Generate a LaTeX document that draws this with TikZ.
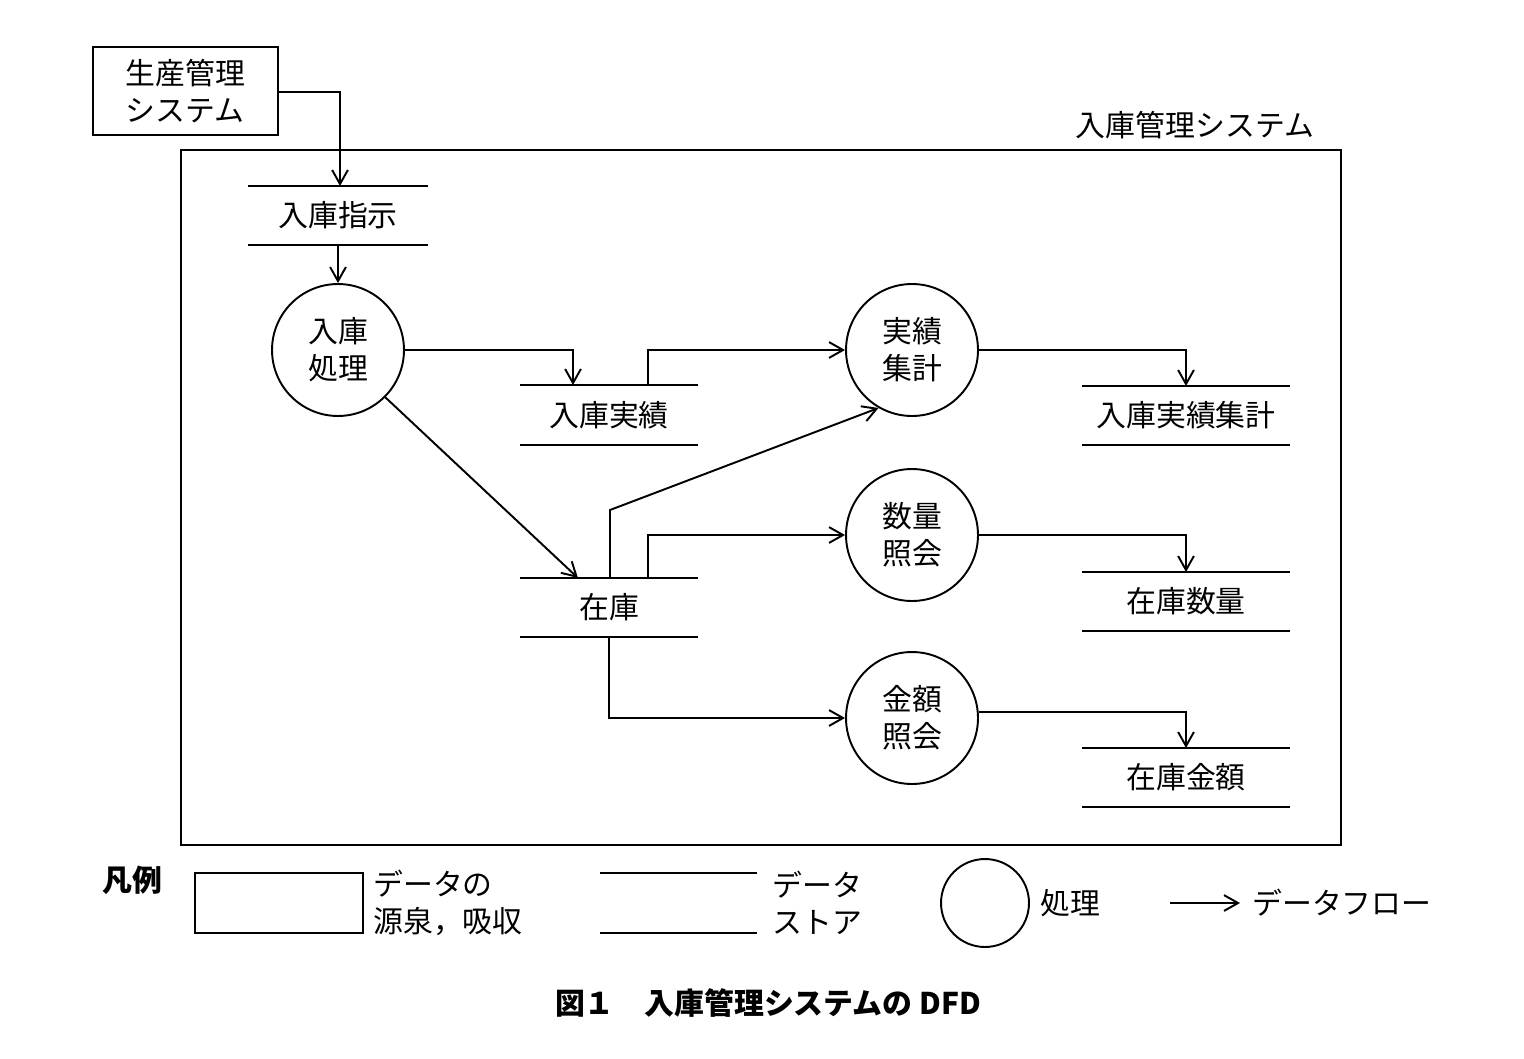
\documentclass[tikz,border=0pt]{standalone}
\usepackage{fontspec}
\setmainfont{Noto Sans CJK JP}
\usetikzlibrary{arrows.meta}
\begin{document}
\begin{tikzpicture}[x=0.02cm,y=-0.02cm,
  every node/.style={font=\fontsize{17}{21}\selectfont, inner sep=0pt},
  ln/.style={line width=1.1pt},
  fl/.style={ln,-{Straight Barb[length=8pt,width=9pt,line width=1.1pt]}},
  proc/.style={circle,draw,line width=1.1pt,minimum size=2.64cm,align=center},
  lab/.style={align=center}]
\useasboundingbox (0,0) rectangle (1524,1058);
% source
\node[draw,ln,minimum width=3.7cm,minimum height=1.76cm,align=left] (src) at (185.5,91) {生産管理\\システム};
% boundary
\draw[ln] (181,150) rectangle (1341,845);
\node (sysl) at (1195,125) {入庫管理システム};
% stores
\newcommand{\dstore}[6]{\draw[ln] (#2,#4) -- (#3,#4) (#2,#5) -- (#3,#5);
  \node (#1) at ({(#2+#3)/2},{(#4+#5)/2}) {#6};
  \coordinate (#1t) at ({(#2+#3)/2},#4); \coordinate (#1b) at ({(#2+#3)/2},#5);}
\dstore{s1}{248}{428}{186}{245}{入庫指示}
\dstore{s2}{520}{698}{385}{445}{入庫実績}
\dstore{s3}{1082}{1290}{386}{445}{入庫実績集計}
\dstore{s4}{520}{698}{578}{637}{在庫}
\dstore{s5}{1082}{1290}{572}{631}{在庫数量}
\dstore{s6}{1082}{1290}{748}{807}{在庫金額}
% processes
\node[proc] (p1) at (338,350) {入庫\\処理};
\node[proc] (p2) at (912,350) {実績\\集計};
\node[proc] (p3) at (912,535) {数量\\照会};
\node[proc] (p4) at (912,718) {金額\\照会};
% flows
\coordinate (c1) at (340,186);
\draw[fl] (src.east |- 0,92) -| (c1);
\draw[fl] (s1b) -- (p1);
\coordinate (c2) at (573,385);
\draw[fl] (p1.east) -| (c2);
\coordinate (c3) at (648,385);
\draw[fl] (c3) |- (p2.west);
\coordinate (c4) at (578,578);
\draw[fl] (p1.-45) -- (c4);
\coordinate (c5) at (610,578);
\draw[fl] (c5) -- (610,510) -- (p2.-120);
\coordinate (c6) at (648,578);
\draw[fl] (c6) |- (p3.west);
\draw[fl] (s4b) |- (p4.west);
\coordinate (c7) at (1186,386);
\draw[fl] (p2.east) -| (c7);
\coordinate (c8) at (1186,572);
\draw[fl] (p3.east) -| (c8);
\coordinate (c9) at (1186,748);
\draw[fl] (p4.east |- 0,712) -| (c9);
% legend
\node[font=\fontsize{17}{21}\selectfont\bfseries] (lg) at (132,880) {凡例};
\node[draw,ln,minimum width=3.36cm,minimum height=1.2cm] (lb) at (279,903) {};
\node[align=left,anchor=west] (lbt) at (373,903) {データの\\源泉，吸収};
\draw[ln] (600,873) coordinate (ls1) -- (757,873) (600,933) -- (757,933);
\node[align=left,anchor=west] (lst) at (772,903) {データ\\ストア};
\node[circle,draw,ln,minimum size=1.76cm] (lc) at (985,903) {};
\node[anchor=west] (lct) at (1040,903) {処理};
\coordinate (la1) at (1170,903); \coordinate (la2) at (1240,903);
\draw[fl] (la1) -- (la2);
\node[anchor=west] (lat) at (1252,903) {データフロー};
\node[font=\fontsize{17}{21}\selectfont\bfseries] (cap) at (768,1003) {図１\quad 入庫管理システムの DFD};
\end{tikzpicture}
\end{document}
